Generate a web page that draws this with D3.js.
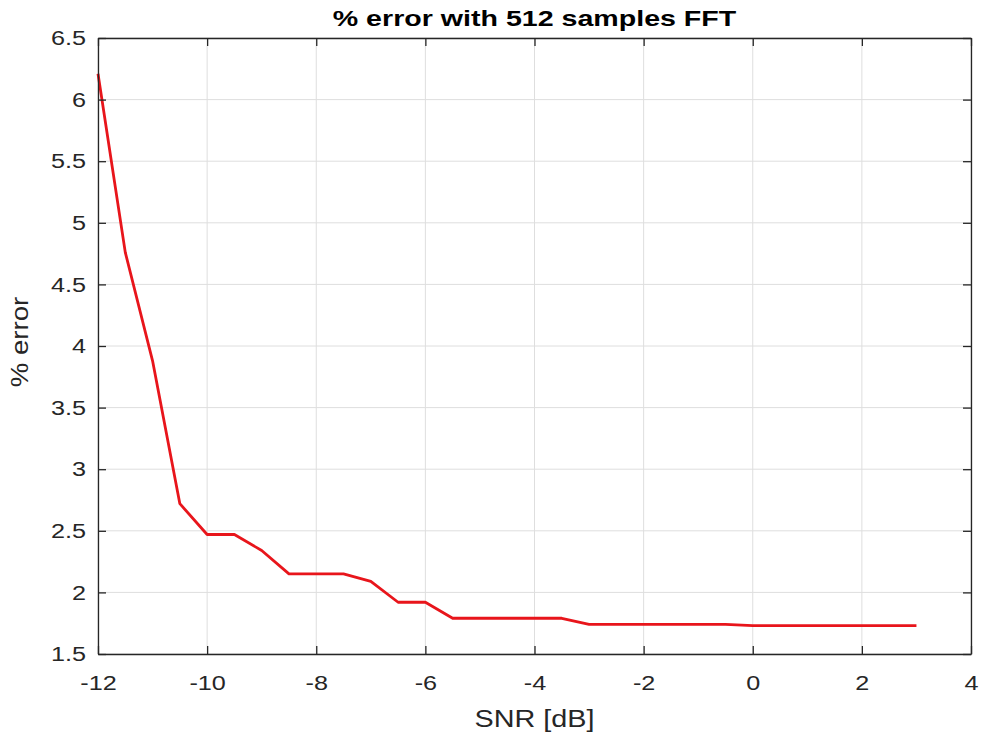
<!DOCTYPE html>
<html>
<head>
<meta charset="utf-8">
<script src="https://cdn.jsdelivr.net/npm/d3@7"></script>
<style>
body { margin: 0; background: #fff; }
text { font-family: "Liberation Sans", Arial, sans-serif; fill: #262626; }
</style>
</head>
<body>
<svg id="chart"></svg>
<script>
var snr = [-12, -11.5, -11, -10.5, -10, -9.5, -9, -8.5, -8, -7.5, -7, -6.5, -6, -5.5, -5, -4.5, -4, -3.5,
	-3, -2.5, -2, -1.5, -1, -0.5, 0, 0.5, 1, 1.5, 2, 2.5, 3];
var errPct = [6.21, 4.76, 3.88, 2.72, 2.47, 2.47, 2.34, 2.15, 2.15, 2.15, 2.09, 1.92, 1.92, 1.79, 1.79, 1.79, 1.79, 1.79,
	1.74, 1.74, 1.74, 1.74, 1.74, 1.74, 1.73, 1.73, 1.73, 1.73, 1.73, 1.73, 1.73];
var xTicks = [-12, -10, -8, -6, -4, -2, 0, 2, 4];
var yTicks = [1.5, 2, 2.5, 3, 3.5, 4, 4.5, 5, 5.5, 6, 6.5];

var W = 983, H = 738,
	margin = {top: 38, right: 12, bottom: 84, left: 98},
	width = W - margin.left - margin.right,
	height = H - margin.top - margin.bottom,
	sx = 1.2; // the reference font renders wide

var svg = d3.select("#chart").attr("width", W).attr("height", H);
var g = svg.append("g").attr("transform", "translate(" + margin.left + "," + margin.top + ")");

var x = d3.scaleLinear().domain([-12, 4]).range([0, width]);
var y = d3.scaleLinear().domain([1.5, 6.5]).range([height, 0]);

// grid
g.selectAll(".gx").data(xTicks).enter().append("line")
	.attr("x1", function(d) { return x(d); }).attr("x2", function(d) { return x(d); })
	.attr("y1", 0).attr("y2", height)
	.attr("stroke", "#dedede").attr("stroke-width", 1);
g.selectAll(".gy").data(yTicks).enter().append("line")
	.attr("y1", function(d) { return y(d); }).attr("y2", function(d) { return y(d); })
	.attr("x1", 0).attr("x2", width)
	.attr("stroke", "#dedede").attr("stroke-width", 1);

// line
var line = d3.line().x(function(d, i) { return x(snr[i]); }).y(function(d) { return y(d); });
g.append("path").datum(errPct)
	.attr("d", line)
	.attr("fill", "none")
	.attr("stroke", "#e8151b")
	.attr("stroke-width", 2.8)
	.attr("stroke-linejoin", "round");

// axes (ticks inward, box style)
function styleAxis(sel) {
	sel.select(".domain").attr("stroke", "#262626").attr("stroke-width", 1.3);
	sel.selectAll(".tick line").attr("stroke", "#262626").attr("stroke-width", 1.3);
	sel.selectAll("text").style("font-size", "21px").attr("fill", "#262626")
		.attr("x", function() { return (+d3.select(this).attr("x") || 0) / sx; })
		.attr("transform", "scale(" + sx + ",1)");
}

var xAxis = g.append("g").attr("transform", "translate(0," + height + ")")
	.call(d3.axisBottom(x).tickValues(xTicks).tickSizeInner(-8).tickSizeOuter(0).tickPadding(21).tickFormat(d3.format("d")));
styleAxis(xAxis);
xAxis.selectAll("text").text(function(d) { return String(d); });

var yAxis = g.append("g")
	.call(d3.axisLeft(y).tickValues(yTicks).tickSizeInner(-8).tickSizeOuter(0).tickPadding(12).tickFormat(function(d) { return String(d); }));
styleAxis(yAxis);

var topAxis = g.append("g")
	.call(d3.axisTop(x).tickValues(xTicks).tickSizeInner(-8).tickSizeOuter(0).tickFormat(""));
styleAxis(topAxis);
var rightAxis = g.append("g").attr("transform", "translate(" + width + ",0)")
	.call(d3.axisRight(y).tickValues(yTicks).tickSizeInner(-8).tickSizeOuter(0).tickFormat(""));
styleAxis(rightAxis);

// labels
svg.append("text")
	.attr("transform", "translate(" + (margin.left + width / 2) + ",26) scale(1.3,1)")
	.attr("text-anchor", "middle")
	.style("font-size", "22px").style("font-weight", "bold")
	.style("fill", "#000")
	.text("% error with 512 samples FFT");

svg.append("text")
	.attr("transform", "translate(" + (margin.left + width / 2) + ",727) scale(" + sx + ",1)")
	.attr("text-anchor", "middle")
	.style("font-size", "24px")
	.text("SNR [dB]");

svg.append("text")
	.attr("transform", "translate(28,342) rotate(-90) scale(" + sx + ",1)")
	.attr("text-anchor", "middle")
	.style("font-size", "23px")
	.text("% error");
</script>
</body>
</html>
